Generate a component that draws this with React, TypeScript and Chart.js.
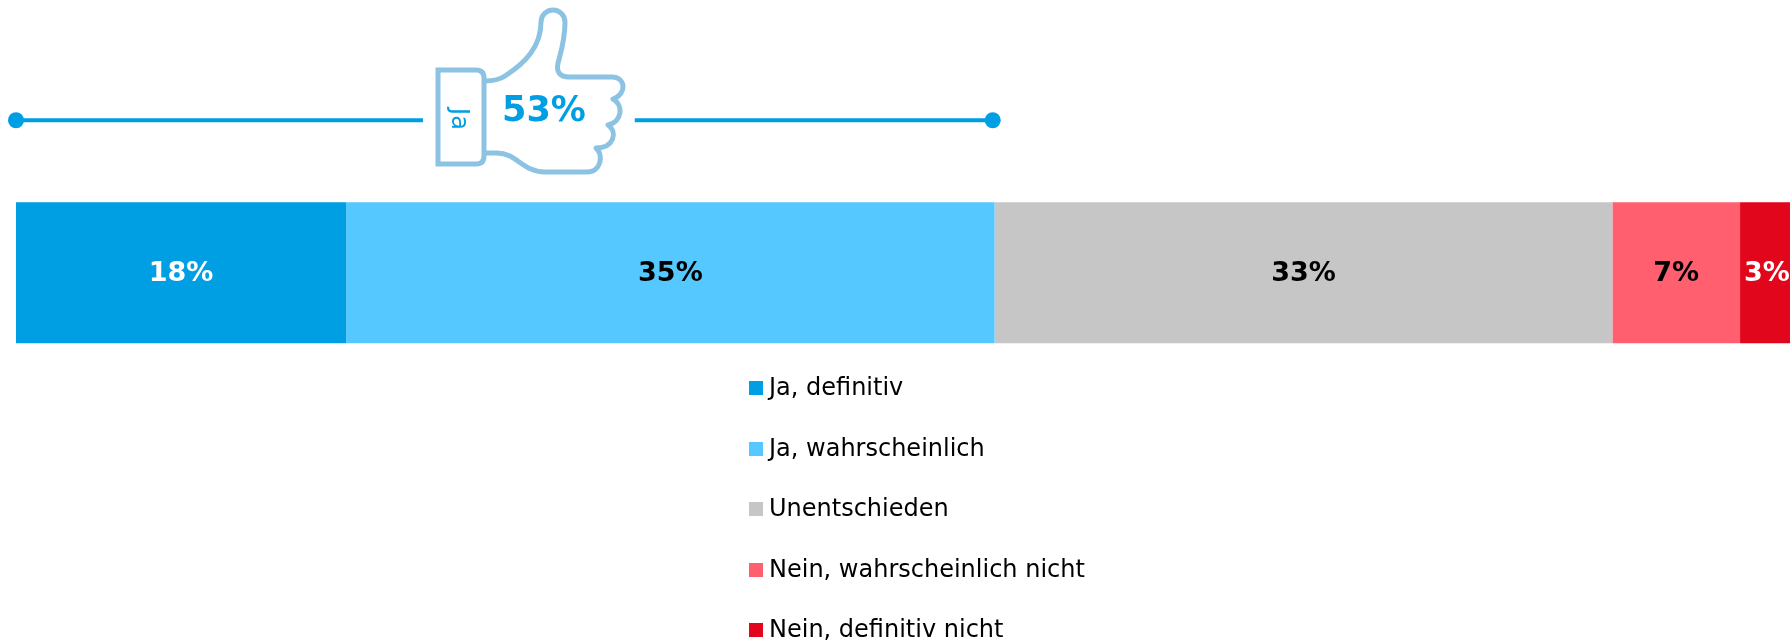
import React, { useEffect, useRef } from "react";
import { Chart, registerables } from "chart.js";

Chart.register(...registerables);

const lineCategory = "Ja gesamt";
const barCategory = "Alle";
const categories = [lineCategory, barCategory];
const seriesNames = ["Ja, definitiv", "Ja, wahrscheinlich", "Unentschieden", "Nein, wahrscheinlich nicht", "Nein, definitiv nicht"];
const seriesValues = [17.85, 35.05, 33.4, 6.9, 2.9];
const seriesColors = ["#009fe3", "#55c8ff", "#c6c6c6", "#ff5f6e", "#e2061c"];
const labelColors = ["#ffffff", "#000000", "#000000", "#000000", "#ffffff"];
const summaryLabel = "Ja";
const summaryValue = "53%";
const bracketX = [0, 22, null, 33.45, 52.8];
const BLUE = "#009fe3";
const THUMB = "#8cc3e3";
const FONT = '"DejaVu Sans", sans-serif';

function drawThumb(ctx: CanvasRenderingContext2D) {
  ctx.save();
  ctx.strokeStyle = THUMB;
  ctx.lineWidth = 5;
  ctx.lineJoin = "miter";
  ctx.lineCap = "butt";
  ctx.beginPath();
  ctx.moveTo(438, 70);
  ctx.lineTo(476, 70);
  ctx.quadraticCurveTo(484, 70, 484, 78);
  ctx.lineTo(484, 156);
  ctx.quadraticCurveTo(484, 164, 476, 164);
  ctx.lineTo(438, 164);
  ctx.closePath();
  ctx.stroke();
  ctx.lineJoin = "round";
  ctx.beginPath();
  ctx.moveTo(485, 81);
  ctx.bezierCurveTo(494, 81, 499, 80, 505, 76);
  ctx.bezierCurveTo(525, 63, 541, 47, 541, 22);
  ctx.arc(553, 22, 12, Math.PI, 0, false);
  ctx.bezierCurveTo(565, 40, 561, 52, 558, 63);
  ctx.bezierCurveTo(556, 72, 560, 77, 569, 77);
  ctx.lineTo(612, 77);
  ctx.bezierCurveTo(625, 77, 628, 93, 613, 99);
  ctx.bezierCurveTo(624, 105, 622, 122, 608, 125);
  ctx.bezierCurveTo(618, 132, 614, 148, 596, 148);
  ctx.bezierCurveTo(604, 155, 601, 172, 587, 172);
  ctx.lineTo(545, 172);
  ctx.bezierCurveTo(522, 172, 517, 153, 497, 153);
  ctx.lineTo(485, 153);
  ctx.stroke();
  ctx.restore();
}

const overlayPlugin = {
  id: "overlay",
  afterDatasetsDraw(chart: any) {
    const { ctx } = chart;
    const x = chart.scales.x;
    const y = chart.scales.y;
    const barY = y.getPixelForValue(1);
    ctx.save();
    ctx.textBaseline = "middle";
    ctx.textAlign = "center";
    ctx.font = `bold 27px ${FONT}`;
    let cum = 0;
    seriesValues.forEach((v, i) => {
      ctx.fillStyle = labelColors[i];
      ctx.fillText(`${Math.round(v)}%`, x.getPixelForValue(cum + v / 2), barY + 1);
      cum += v;
    });

    drawThumb(ctx);
    ctx.fillStyle = BLUE;
    ctx.font = `bold 35px ${FONT}`;
    ctx.fillText(summaryValue, 544, 112);
    ctx.save();
    ctx.translate(458, 119);
    ctx.rotate(Math.PI / 2);
    ctx.font = `24px ${FONT}`;
    ctx.fillText(summaryLabel, 0, 0);
    ctx.restore();

    ctx.textAlign = "left";
    ctx.font = `24px ${FONT}`;
    seriesNames.forEach((name, i) => {
      const cy = 388 + i * 60.5;
      ctx.fillStyle = seriesColors[i];
      ctx.fillRect(749, Math.round(cy - 7), 14, 14);
      ctx.fillStyle = "#000000";
      ctx.fillText(name, 769, cy + 1);
    });
    ctx.restore();
  },
};

export default function App() {
  const ref = useRef<HTMLCanvasElement>(null);
  useEffect(() => {
    document.body.style.margin = "0";
    const chart = new Chart(ref.current!, {
      type: "bar",
      data: {
        labels: categories,
        datasets: [
          ...seriesNames.map((name, i) => ({
            type: "bar" as const,
            label: name,
            data: [null, seriesValues[i]],
            backgroundColor: seriesColors[i],
            borderWidth: 0,
            xAxisID: "x",
            yAxisID: "y",
            barPercentage: 1,
            categoryPercentage: 0.9246,
            stack: "all",
          })),
          {
            type: "scatter" as const,
            indexAxis: "x",
            label: lineCategory,
            data: bracketX.map((v) => ({ x: v, y: v === null ? null : lineCategory })),
            showLine: true,
            spanGaps: false,
            borderColor: BLUE,
            backgroundColor: BLUE,
            borderWidth: 4,
            pointRadius: [8, 0, 0, 0, 8],
            pointBorderWidth: 0,
            xAxisID: "x",
            yAxisID: "y",
            clip: false,
          },
        ] as any,
      },
      options: {
        indexAxis: "y",
        responsive: false,
        animation: false,
        layout: { autoPadding: false, padding: { left: 16, right: 0, top: 44, bottom: 293 } },
        plugins: { legend: { display: false }, tooltip: { enabled: false } },
        scales: {
          x: { type: "linear", min: 0, max: 95.9, stacked: true, display: false },
          y: { type: "category", stacked: true, offset: true, display: false },
        },
      } as any,
      plugins: [overlayPlugin],
    });
    return () => chart.destroy();
  }, []);
  return (
    <div style={{ position: "absolute", left: 0, top: 0, width: 1790, height: 642, background: "#fff" }}>
      <canvas ref={ref} width={1790} height={642} style={{ display: "block" }} />
    </div>
  );
}
